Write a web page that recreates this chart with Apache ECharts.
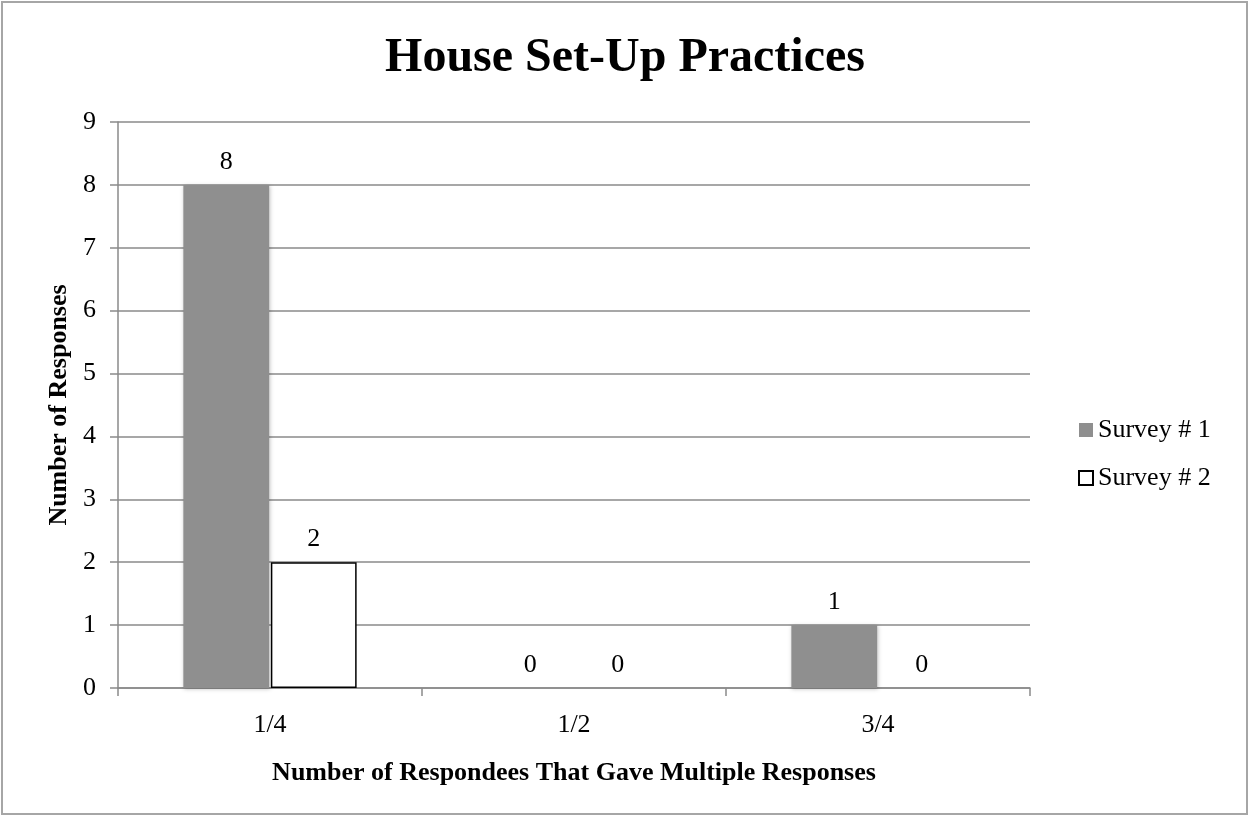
<!DOCTYPE html>
<html>
<head>
<meta charset="utf-8">
<script src="https://cdn.jsdelivr.net/npm/echarts@6/dist/echarts.min.js"></script>
<style>
  html, body { margin: 0; padding: 0; background: #fff; }
  #chart { width: 1250px; height: 817px; }
</style>
</head>
<body>
<div id="chart"></div>
<script>
// Survey results: respondents that gave multiple responses
const categories = ['1/4', '1/2', '3/4'];
const survey1 = [8, 0, 1];
const survey2 = [2, 0, 0];
const yTicks = [0, 1, 2, 3, 4, 5, 6, 7, 8, 9];

const serif = '"Liberation Serif", "Times New Roman", serif';
const gridGray = '#8a8a8a';

const chart = echarts.init(document.getElementById('chart'));

const labelStyle = {
  show: true,
  position: 'top',
  distance: 10,
  fontFamily: serif,
  fontSize: 26,
  color: '#000'
};

// Outlined bars with zero height get no border so no stray line sits on the axis
const outlinedData = (values) => values.map(v => v === 0
  ? { value: v, itemStyle: { borderWidth: 0 } }
  : v);

chart.setOption({
  backgroundColor: '#fff',
  animation: false,
  title: {
    text: 'House Set-Up Practices',
    left: 'center',
    top: 30,
    textStyle: { fontFamily: serif, fontSize: 48, fontWeight: 'bold', color: '#000' }
  },
  legend: {
    orient: 'vertical',
    left: 1073,
    top: 412,
    itemWidth: 14,
    itemHeight: 14,
    itemGap: 22,
    icon: 'rect',
    textStyle: { fontFamily: serif, fontSize: 26, color: '#000' },
    data: ['Survey # 1', 'Survey # 2']
  },
  grid: { left: 118, right: 220, top: 122, bottom: 129 },
  xAxis: {
    type: 'category',
    data: categories,
    name: 'Number of Respondees That Gave Multiple Responses',
    nameLocation: 'middle',
    nameGap: 72,
    nameTextStyle: { fontFamily: serif, fontSize: 26, fontWeight: 'bold', color: '#000' },
    axisLine: { lineStyle: { color: gridGray, width: 1.5 } },
    axisTick: { show: true, length: 8, lineStyle: { color: gridGray, width: 1.5 } },
    axisLabel: { fontFamily: serif, fontSize: 26, color: '#000', margin: 24 }
  },
  yAxis: {
    type: 'value',
    min: yTicks[0],
    max: yTicks[yTicks.length - 1],
    interval: 1,
    name: 'Number of Responses',
    nameLocation: 'middle',
    nameGap: 43,
    nameRotate: 90,
    nameTextStyle: { fontFamily: serif, fontSize: 26, fontWeight: 'bold', color: '#000' },
    axisLine: { show: true, lineStyle: { color: gridGray, width: 1.5 } },
    axisTick: { show: true, length: 8, lineStyle: { color: gridGray, width: 1.5 } },
    axisLabel: { fontFamily: serif, fontSize: 26, color: '#000', margin: 22 },
    splitLine: { lineStyle: { color: gridGray, width: 1.5 } }
  },
  series: [
    {
      name: 'Survey # 1',
      type: 'bar',
      data: survey1,
      barGap: '2%',
      barCategoryGap: '43%',
      itemStyle: {
        color: '#8f8f8f',
        shadowColor: 'rgba(0,0,0,0.25)',
        shadowBlur: 4,
        shadowOffsetX: 1,
        shadowOffsetY: 1
      },
      label: labelStyle
    },
    {
      name: 'Survey # 2',
      type: 'bar',
      data: outlinedData(survey2),
      itemStyle: {
        color: '#fff',
        borderColor: '#000',
        borderWidth: 1.5
      },
      label: labelStyle
    }
  ],
  graphic: [
    {
      type: 'rect',
      shape: { x: 2, y: 2, width: 1245, height: 812 },
      style: { fill: 'none', stroke: '#a6a6a6', lineWidth: 2 },
      silent: true
    }
  ]
});
</script>
</body>
</html>
